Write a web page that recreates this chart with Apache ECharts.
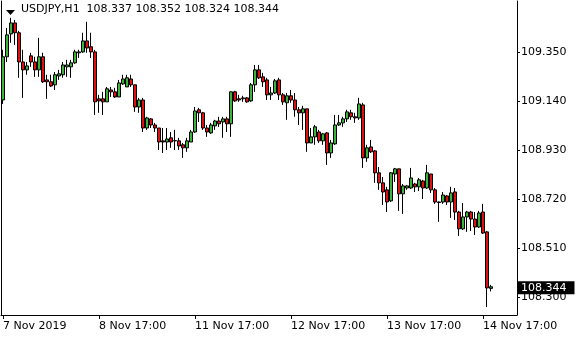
<!DOCTYPE html>
<html><head><meta charset="utf-8">
<script src="https://cdn.jsdelivr.net/npm/echarts@6/dist/echarts.min.js"></script>
<style>html,body{margin:0;padding:0;background:#fff}#c{width:580px;height:340px}</style>
</head><body><div id="c"></div>
<script>
const symbolName = 'USDJPY';
const timeframe = 'H1';
const xTickLabels = ['7 Nov 2019','8 Nov 17:00','11 Nov 17:00','12 Nov 17:00','13 Nov 17:00','14 Nov 17:00'];
const yTickValues = [108.300, 108.510, 108.720, 108.930, 109.140, 109.350];

const opens = [
109.144,109.329,109.427,109.474,109.432,109.307,109.273,109.333,109.307,109.273,
109.329,109.230,109.222,109.209,109.247,109.252,109.286,109.286,109.303,109.346,
109.350,109.397,109.372,109.350,109.149,109.149,109.136,109.187,109.179,109.157,
109.213,109.200,109.234,109.209,109.114,109.144,109.024,109.063,109.037,109.024,
108.969,108.964,108.982,108.969,108.969,108.952,108.939,108.964,109.007,109.102,
109.089,109.024,109.003,109.033,109.054,109.050,109.063,109.042,109.179,109.149,
109.149,109.153,109.140,109.209,109.273,109.243,109.230,109.166,109.174,109.230,
109.166,109.132,109.162,109.144,109.102,109.089,109.106,108.960,108.986,109.007,
108.969,109.003,108.917,108.956,109.037,109.046,109.063,109.089,109.072,109.067,
109.123,108.896,108.943,108.926,108.832,108.789,108.759,108.712,108.827,108.849,
108.742,108.767,108.767,108.784,108.772,108.797,108.767,108.827,108.759,108.707,
108.707,108.733,108.707,108.750,108.664,108.592,108.643,108.664,108.634,108.600,
108.664,108.579,108.337];
const highs = [
109.359,109.453,109.496,109.487,109.440,109.359,109.307,109.346,109.329,109.410,
109.346,109.252,109.252,109.264,109.273,109.307,109.316,109.316,109.359,109.359,
109.432,109.479,109.432,109.359,109.166,109.179,109.200,109.200,109.196,109.230,
109.252,109.252,109.252,109.209,109.153,109.153,109.072,109.067,109.046,109.024,
109.024,109.024,109.007,109.016,108.982,108.960,108.982,109.016,109.114,109.110,
109.093,109.037,109.046,109.059,109.072,109.072,109.072,109.181,109.183,109.166,
109.162,109.157,109.217,109.294,109.294,109.260,109.239,109.200,109.234,109.239,
109.174,109.174,109.187,109.174,109.114,109.119,109.106,109.024,109.037,109.016,
109.003,109.007,108.973,109.080,109.080,109.072,109.102,109.102,109.089,109.153,
109.132,108.952,108.973,108.930,108.857,108.814,108.772,108.835,108.853,108.849,
108.784,108.780,108.853,108.789,108.810,108.802,108.866,108.827,108.767,108.709,
108.750,108.737,108.772,108.767,108.669,108.703,108.669,108.669,108.664,108.669,
108.699,108.583,108.352];
const lows = [
109.127,109.307,109.389,109.380,109.239,109.153,109.252,109.286,109.243,109.243,
109.217,109.149,109.200,109.187,109.230,109.239,109.243,109.239,109.299,109.324,
109.346,109.346,109.324,109.080,109.089,109.080,109.136,109.157,109.153,109.157,
109.209,109.200,109.200,109.093,109.089,109.007,109.016,109.024,109.007,108.930,
108.917,108.930,108.939,108.930,108.930,108.896,108.922,108.964,109.003,109.050,
109.016,108.986,108.999,109.016,109.029,108.982,109.007,108.986,109.136,109.136,
109.136,109.132,109.136,109.179,109.234,109.200,109.144,109.144,109.170,109.144,
109.123,109.059,109.132,109.072,109.037,109.016,108.922,108.960,108.952,108.960,
108.952,108.866,108.896,108.952,109.033,109.029,109.050,109.059,109.046,109.059,
108.853,108.879,108.917,108.789,108.759,108.694,108.664,108.707,108.793,108.669,
108.656,108.759,108.763,108.750,108.754,108.720,108.763,108.746,108.699,108.622,
108.699,108.694,108.639,108.630,108.562,108.587,108.579,108.583,108.566,108.596,
108.570,108.257,108.324];
const closes = [
109.329,109.423,109.474,109.432,109.307,109.273,109.290,109.307,109.273,109.329,
109.222,109.222,109.204,109.252,109.256,109.294,109.294,109.303,109.350,109.350,
109.397,109.367,109.350,109.136,109.140,109.136,109.192,109.179,109.157,109.217,
109.234,109.239,109.209,109.114,109.144,109.024,109.067,109.037,109.024,108.964,
108.964,108.977,108.964,108.970,108.947,108.939,108.969,109.007,109.097,109.089,
109.024,109.007,109.037,109.054,109.042,109.063,109.042,109.179,109.140,109.144,
109.153,109.136,109.209,109.273,109.239,109.222,109.166,109.174,109.226,109.166,
109.136,109.162,109.144,109.102,109.089,109.106,108.960,108.986,109.029,108.969,
108.999,108.917,108.960,109.037,109.046,109.063,109.093,109.072,109.067,109.127,
108.896,108.939,108.922,108.832,108.789,108.750,108.707,108.832,108.849,108.742,
108.776,108.776,108.810,108.772,108.802,108.767,108.832,108.759,108.707,108.705,
108.737,108.707,108.746,108.664,108.592,108.643,108.664,108.634,108.600,108.660,
108.574,108.339,108.344];

const emptyBarsRight = 6;

// hourly bar times (market closed on weekends)
const categories = [];
(function () {
  const t = new Date(Date.UTC(2019, 10, 7, 17));
  const total = opens.length + emptyBarsRight;
  while (categories.length < total) {
    const d = t.getUTCDay();
    if (d !== 0 && d !== 6) {
      categories.push(t.getUTCDate() + ' Nov ' + String(t.getUTCHours()).padStart(2, '0') + ':00');
    }
    t.setUTCHours(t.getUTCHours() + 1);
  }
})();

const candleData = opens.map((o, i) => [o, closes[i], lows[i], highs[i]]);
for (let i = 0; i < emptyBarsRight; i++) candleData.push('-');

const last = opens.length - 1;
const lastPrice = closes[last];
const titleText = symbolName + ',' + timeframe + '  ' +
  [opens[last], highs[last], lows[last], closes[last]].map(v => v.toFixed(3)).join(' ');

const FONT = 'DejaVu Sans';
const chart = echarts.init(document.getElementById('c'), null, { renderer: 'canvas' });
chart.setOption({
  animation: false,
  backgroundColor: '#ffffff',
  title: {
    text: titleText,
    left: 21, top: 4, padding: 0,
    textStyle: { fontFamily: FONT, fontSize: 11, fontWeight: 'normal', color: '#000000' }
  },
  graphic: [{
    type: 'polygon', silent: true,
    shape: { points: [[6, 10], [15, 10], [10.5, 15]] },
    style: { fill: '#000000' }
  }],
  grid: { left: 1, right: 63, top: 1, bottom: 25 },
  xAxis: {
    type: 'category',
    data: categories,
    boundaryGap: true,
    axisLine: { show: true, lineStyle: { color: '#000000', width: 1 } },
    axisTick: { show: true, interval: 23, alignWithLabel: true, length: 4, lineStyle: { color: '#000000' } },
    axisLabel: {
      show: true, interval: 23, align: 'left', margin: 6,
      fontFamily: FONT, fontSize: 11, color: '#000000',
      formatter: (v, idx) => xTickLabels[Math.round(idx / 24)] || ''
    },
    splitLine: { show: false }
  },
  yAxis: [{
    type: 'value',
    position: 'right',
    min: 108.223, max: 109.568,
    axisLine: { show: true, lineStyle: { color: '#000000', width: 1 } },
    axisTick: { show: true, length: 3, customValues: yTickValues, lineStyle: { color: '#000000' } },
    axisLabel: {
      show: true, margin: 4, customValues: yTickValues,
      fontFamily: FONT, fontSize: 11, color: '#000000',
      formatter: v => Number(v).toFixed(3)
    },
    splitLine: { show: false }
  }, {
    type: 'value',
    position: 'left',
    min: 108.223, max: 109.568,
    axisLine: { show: true, onZero: false, lineStyle: { color: '#000000', width: 1 } },
    axisTick: { show: false }, axisLabel: { show: false }, splitLine: { show: false }
  }],
  series: [{
    type: 'candlestick',
    data: candleData,
    barWidth: 3,
    itemStyle: {
      color: '#3cb43c', color0: '#dd1111',
      borderColor: '#000000', borderColor0: '#000000', borderColorDoji: '#000000',
      borderWidth: 1
    },
    emphasis: { disabled: true },
    markLine: {
      silent: true, symbol: ['none', 'none'], animation: false,
      lineStyle: { color: 'rgba(0,0,0,0)', width: 1, type: 'solid' },
      data: [{ yAxis: lastPrice }],
      label: {
        show: true, position: 'end', distance: 0, opacity: 1,
        formatter: () => lastPrice.toFixed(3),
        backgroundColor: '#000000', color: '#ffffff',
        fontFamily: FONT, fontSize: 11, padding: [1, 8, 0, 4], lineHeight: 12
      }
    }
  }]
});
</script></body></html>
